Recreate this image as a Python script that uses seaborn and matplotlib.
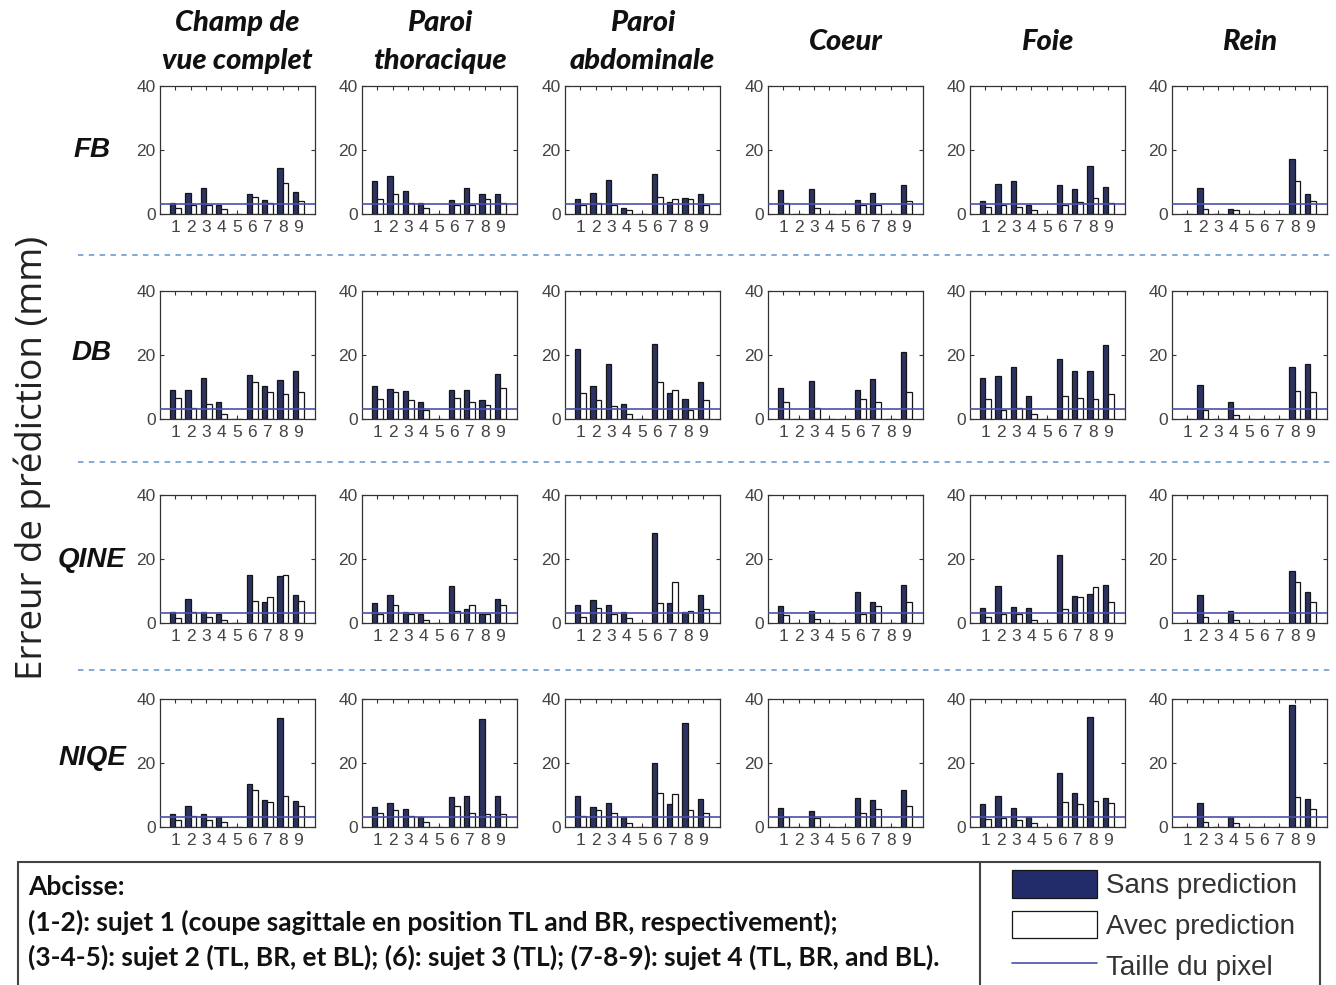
import numpy as np
import pandas as pd
import matplotlib
matplotlib.use("Agg")
import matplotlib.pyplot as plt
import seaborn as sns
from matplotlib.patches import Patch
from matplotlib.lines import Line2D

sns.set_style("white")
plt.rcParams['font.family'] = ['Liberation Sans', 'DejaVu Sans']

# ---------------- data ----------------
subjects = ['1', '2', '3', '4', '5', '6', '7', '8', '9']
regions = ["Champ de\nvue complet", "Paroi\nthoracique", "Paroi\nabdominale",
           "Coeur", "Foie", "Rein"]
metrics = ["FB", "DB", "QINE", "NIQE"]
modes = ["Sans prediction", "Avec prediction"]
pixel_size = 3.0
y_ticks = [0, 20, 40]

fb_sans = [[3.4, 6.6, 8.1, 2.7, 0, 6.3, 4.3, 14.5, 6.8],
           [10.2, 12.0, 7.2, 3.4, 0, 4.3, 8.1, 6.4, 6.4],
           [4.7, 6.6, 10.7, 2.0, 0, 12.4, 3.9, 5.1, 6.3],
           [7.6, 0, 7.7, 0, 0, 4.3, 6.7, 0, 9.0],
           [4.2, 9.3, 10.2, 2.7, 0, 9.0, 7.8, 14.9, 8.4],
           [0, 8.0, 0, 1.6, 0, 0, 0, 17.3, 6.2]]
fb_avec = [[1.8, 2.9, 2.7, 1.6, 0, 5.2, 3.4, 9.7, 4.2],
           [4.6, 6.4, 3.4, 1.8, 0, 2.9, 2.9, 4.7, 3.4],
           [2.9, 3.4, 2.9, 1.3, 0, 5.2, 4.7, 4.7, 2.9],
           [3.4, 0, 2.0, 0, 0, 2.8, 2.9, 0, 4.2],
           [2.1, 2.7, 2.1, 1.2, 0, 2.7, 3.9, 5.1, 3.4],
           [0, 1.6, 0, 1.3, 0, 0, 0, 10.2, 4.2]]

db_sans = [[9.1, 9.1, 12.8, 5.2, 0, 13.8, 10.2, 12.3, 15.0],
           [10.3, 9.4, 8.7, 5.3, 0, 9.1, 9.1, 5.8, 14.2],
           [22.0, 10.4, 17.3, 4.7, 0, 23.5, 8.1, 6.3, 11.6],
           [9.6, 0, 12.0, 0, 0, 9.1, 12.4, 0, 20.9],
           [12.7, 13.3, 16.3, 7.3, 0, 18.6, 15.0, 15.0, 23.1],
           [0, 10.7, 0, 5.3, 0, 0, 0, 16.3, 17.1]]
db_avec = [[6.6, 3.5, 4.7, 1.6, 0, 11.6, 8.4, 7.8, 8.4],
           [6.3, 8.4, 5.8, 2.9, 0, 6.6, 5.3, 4.4, 9.6],
           [8.1, 6.0, 4.2, 1.6, 0, 11.6, 9.1, 2.7, 5.8],
           [5.3, 0, 3.5, 0, 0, 6.3, 5.3, 0, 8.4],
           [6.3, 2.7, 3.4, 1.6, 0, 7.3, 6.6, 6.3, 7.8],
           [0, 2.7, 0, 1.3, 0, 0, 0, 8.9, 8.4]]

qine_sans = [[3.5, 7.4, 3.5, 2.8, 0, 14.9, 6.6, 14.6, 8.7],
             [6.2, 8.7, 3.5, 2.8, 0, 11.6, 4.5, 2.9, 7.4],
             [5.6, 7.2, 5.6, 3.5, 0, 28.2, 6.4, 3.5, 8.6],
             [5.3, 0, 3.6, 0, 0, 9.7, 6.5, 0, 12.0],
             [4.8, 11.6, 5.1, 4.8, 0, 21.2, 8.5, 9.0, 11.8],
             [0, 8.7, 0, 3.6, 0, 0, 0, 16.4, 9.7]]
qine_avec = [[1.5, 3.3, 1.8, 1.0, 0, 6.9, 8.2, 15.0, 7.0],
             [2.9, 5.6, 2.8, 1.0, 0, 3.8, 5.6, 2.9, 5.6],
             [1.8, 4.6, 2.9, 1.7, 0, 6.2, 12.8, 3.9, 4.5],
             [2.6, 0, 1.3, 0, 0, 2.9, 5.4, 0, 6.5],
             [1.8, 2.9, 2.9, 1.0, 0, 4.3, 8.2, 11.1, 6.5],
             [0, 1.8, 0, 0.8, 0, 0, 0, 12.8, 6.5]]

niqe_sans = [[4.0, 6.6, 4.0, 3.0, 0, 13.4, 8.3, 34.1, 8.1],
             [6.1, 7.6, 5.7, 3.0, 0, 9.4, 9.8, 33.7, 9.8],
             [9.6, 6.3, 7.6, 3.0, 0, 19.9, 7.1, 32.4, 8.6],
             [5.8, 0, 5.0, 0, 0, 9.1, 8.3, 0, 11.7],
             [7.1, 9.6, 5.8, 3.0, 0, 16.8, 10.5, 34.3, 9.1],
             [0, 7.6, 0, 3.0, 0, 0, 0, 38.0, 8.9]]
niqe_avec = [[2.2, 3.5, 2.2, 1.7, 0, 11.7, 7.8, 9.8, 6.6],
             [4.5, 5.3, 3.5, 1.7, 0, 6.6, 4.3, 4.0, 4.0],
             [3.5, 5.3, 4.3, 1.4, 0, 10.7, 10.4, 5.3, 4.5],
             [3.0, 0, 2.9, 0, 0, 4.5, 5.5, 0, 6.6],
             [2.5, 2.8, 2.3, 1.4, 0, 7.8, 7.1, 8.1, 7.6],
             [0, 1.7, 0, 1.4, 0, 0, 0, 9.3, 5.7]]

legend_notes = ["Abcisse:",
                "(1-2): sujet 1 (coupe sagittale en position TL and BR, respectivement);",
                "(3-4-5): sujet 2 (TL, BR, et BL); (6): sujet 3 (TL); (7-8-9): sujet 4 (TL, BR, and BL)."]
y_label = "Erreur de prédiction (mm)"
pixel_label = "Taille du pixel"

series = {"FB": (fb_sans, fb_avec), "DB": (db_sans, db_avec),
          "QINE": (qine_sans, qine_avec), "NIQE": (niqe_sans, niqe_avec)}

rows = []
for m in metrics:
    sans, avec = series[m]
    for ri, reg in enumerate(regions):
        for si, s in enumerate(subjects):
            rows.append((m, reg, s, modes[0], sans[ri][si]))
            rows.append((m, reg, s, modes[1], avec[ri][si]))
df = pd.DataFrame(rows, columns=["metric", "region", "subject", "mode", "value"])

# ---------------- style / layout ----------------
W, H = 1336, 985
dark = "#232c6a"
edge = "#151515"
line_col = "#4a50a8"
palette = {modes[0]: dark, modes[1]: "white"}

col_left = [160, 362, 565, 768, 970, 1172]
row_top = [86, 291, 495, 699]
ax_w, ax_h = 155, 128

fig = plt.figure(figsize=(W / 100, H / 100), dpi=100)

for r, m in enumerate(metrics):
    for c, reg in enumerate(regions):
        ax = fig.add_axes([col_left[c] / W, 1 - (row_top[r] + ax_h) / H, ax_w / W, ax_h / H])
        sub = df[(df.metric == m) & (df.region == reg)]
        sns.barplot(data=sub, x="subject", y="value", hue="mode", order=subjects,
                    hue_order=modes, palette=palette, edgecolor=edge, linewidth=0.9,
                    width=0.72, errorbar=None, legend=False, ax=ax, zorder=2)
        ax.axhline(pixel_size, color=line_col, lw=1.2, zorder=3)
        ax.set_xlim(-1.0, 9.1)
        ax.set_ylim(0, 40)
        ax.set_yticks(y_ticks)
        ax.set_xlabel("")
        ax.set_ylabel("")
        for sp in ax.spines.values():
            sp.set_visible(True)
            sp.set_color("#333333")
            sp.set_linewidth(0.9)
        ax.tick_params(direction="in", length=3, width=0.8, top=True, right=True,
                       bottom=True, left=True, labelsize=12.5, labelcolor="#444444",
                       color="#333333")
        ax.tick_params(axis="x", pad=4)
        ax.tick_params(axis="y", pad=3)

# column titles
for c, reg in enumerate(regions):
    fig.text((col_left[c] + ax_w / 2) / W, 1 - 42 / H, reg, ha="center", va="center",
             fontsize=21, fontweight="black", fontstyle="italic", family="Lato",
             linespacing=1.55, color="#111111")

# row labels
row_label_y = [150, 353, 560, 758]
for r, m in enumerate(metrics):
    fig.text(92 / W, 1 - row_label_y[r] / H, m, ha="center", va="center",
             fontsize=20, fontweight="bold", fontstyle="italic", color="#111111")

# y label
fig.text(32 / W, 1 - 458 / H, y_label, rotation=90, ha="center", va="center",
         fontsize=26.5, family="Open Sans", color="#222222")

# dashed separators
for y in [255, 462, 670]:
    fig.add_artist(Line2D([78 / W, 1330 / W], [1 - y / H, 1 - y / H],
                          ls=(0, (3, 3)), color="#7aa3d6", lw=1.3))

# legend box
box_col = "#444444"
for (x0, y0, x1, y1) in [(18, 862, 1320, 862), (18, 862, 18, 985),
                         (1320, 862, 1320, 985), (980, 862, 980, 985)]:
    fig.add_artist(Line2D([x0 / W, x1 / W], [1 - y0 / H, 1 - y1 / H],
                          color=box_col, lw=1.5))

note_y = [887, 922, 957]
for t, y in zip(legend_notes, note_y):
    fig.text(28 / W, 1 - y / H, t, ha="left", va="center", fontsize=19,
             fontweight="bold", family="Lato", color="#111111")

handles = [Patch(facecolor=dark, edgecolor=edge, lw=0.9),
           Patch(facecolor="white", edgecolor=edge, lw=0.9),
           Line2D([], [], color=line_col, lw=1.2)]
fig.legend(handles, [modes[0], modes[1], pixel_label], loc="upper left",
           bbox_to_anchor=(1012 / W, 1 - 870 / H), frameon=False, fontsize=20,
           handlelength=3.05, handleheight=1.15, labelspacing=0.42, handletextpad=0.32,
           borderpad=0, borderaxespad=0, labelcolor="#333333")

fig.savefig("out.png", dpi=100)
